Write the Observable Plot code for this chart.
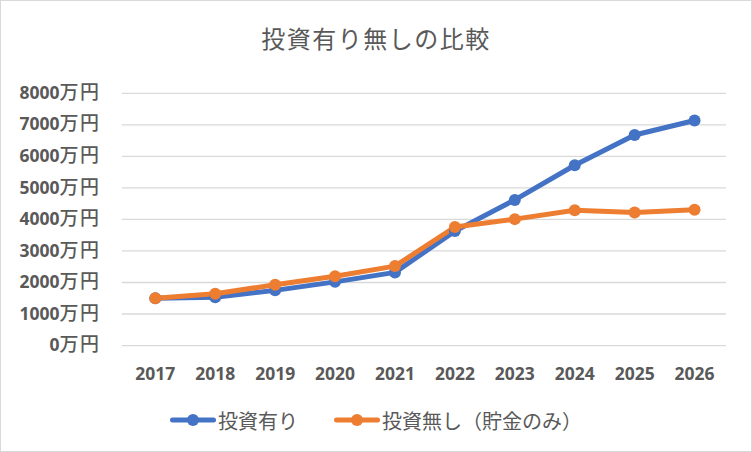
<!DOCTYPE html>
<html>
<head>
<meta charset="utf-8">
<script src="https://cdn.jsdelivr.net/npm/d3@7"></script>
<script src="https://cdn.jsdelivr.net/npm/@observablehq/plot@0.6"></script>
<style>
  html, body { margin: 0; padding: 0; background: #fff; }
  #chart {
    position: relative; width: 752px; height: 452px; box-sizing: border-box;
    border: 1px solid #d9d9d9; background: #fff; overflow: hidden;
    font-family: "Noto Sans", "Noto Sans CJK JP", sans-serif; color: #595959;
  }
  #title {
    position: absolute; left: 0; right: 0; top: 21px; text-align: center;
    font-size: 24px; letter-spacing: 1.5px; line-height: 32px; color: #595959;
    font-family: "Noto Sans CJK JP", sans-serif;
  }
  #plot { position: absolute; left: -1px; top: -1px; }
  #legend {
    position: absolute; left: 0; right: 0; top: 404px; height: 30px;
    display: flex; justify-content: center; align-items: center; gap: 0;
    font-family: "Noto Sans CJK JP", sans-serif; font-size: 20px; color: #595959;
  }
  .item { display: flex; align-items: center; }
  .item svg { display: block; margin-right: 2px; }
</style>
</head>
<body>
<div id="chart">
  <div id="title"></div>
  <div id="plot"></div>
  <div id="legend"></div>
</div>
<script>
const titleText = "投資有り無しの比較";
const years = ["2017","2018","2019","2020","2021","2022","2023","2024","2025","2026"];
const seriesNames = ["投資有り", "投資無し（貯金のみ）"];
const seriesColors = ["#4472C4", "#ED7D31"];
const invest  = [1500, 1530, 1750, 2020, 2320, 3630, 4620, 5720, 6680, 7140];
const savings = [1500, 1640, 1930, 2200, 2520, 3760, 4010, 4290, 4220, 4310];
const yTicks = [0, 1000, 2000, 3000, 4000, 5000, 6000, 7000, 8000];
const yUnit = "万円";

document.getElementById("title").textContent = titleText;

const data = [];
years.forEach((y, i) => {
  data.push({year: y, value: invest[i], series: seriesNames[0]});
});
years.forEach((y, i) => {
  data.push({year: y, value: savings[i], series: seriesNames[1]});
});

const chart = Plot.plot({
  width: 752,
  height: 400,
  marginLeft: 122,
  marginRight: 25,
  marginTop: 93,
  marginBottom: 54.5,
  style: {background: "transparent", color: "#595959", overflow: "visible"},
  x: {type: "point", domain: years, padding: 0.5, label: null},
  y: {domain: [0, 8000], label: null},
  color: {domain: seriesNames, range: seriesColors},
  marks: [
    Plot.ruleY(yTicks, {stroke: "#d9d9d9", strokeWidth: 1.3}),
    Plot.axisY({ticks: yTicks, tickSize: 0, tickPadding: 22, label: null,
      tickFormat: d => d + yUnit, ariaLabel: "y-axis",
      fontSize: 17.5, fontWeight: "bold", fill: "#595959"}),
    Plot.axisX({tickSize: 0, tickPadding: 22, label: null,
      fontSize: 17.5, fontWeight: "bold", fill: "#595959"}),
    Plot.line(data, {x: "year", y: "value", stroke: "series", z: "series", strokeWidth: 5, strokeLinejoin: "round", strokeLinecap: "round"}),
    Plot.dot(data, {x: "year", y: "value", fill: "series", r: 6, stroke: "none"})
  ]
});
chart.querySelectorAll("text").forEach(t => {
  t.style.fontFamily = '"Noto Sans", "Noto Sans CJK JP", sans-serif';
});
// style the unit part of y tick labels (wider CJK glyphs, as in the reference)
chart.querySelectorAll('g[aria-label="y-axis tick label"] text, g[aria-label="y-axis"] text').forEach(t => {
  const s = t.textContent;
  if (!s.endsWith(yUnit)) return;
  const num = s.slice(0, -yUnit.length);
  const ns = "http://www.w3.org/2000/svg";
  while (t.firstChild) t.removeChild(t.firstChild);
  const a = document.createElementNS(ns, "tspan"); a.textContent = num;
  const b = document.createElementNS(ns, "tspan"); b.textContent = yUnit;
  b.setAttribute("font-size", 19); b.setAttribute("letter-spacing", 1.5);
  b.setAttribute("font-family", '"Noto Sans CJK JP", sans-serif');
  b.setAttribute("font-weight", 500);
  t.appendChild(a); t.appendChild(b);
});
document.getElementById("plot").appendChild(chart);

// Legend
const legend = document.getElementById("legend");
seriesNames.forEach((name, i) => {
  const item = document.createElement("div");
  item.className = "item";
  if (i > 0) item.style.marginLeft = "36px";
  const ns = "http://www.w3.org/2000/svg";
  const svg = document.createElementNS(ns, "svg");
  svg.setAttribute("width", 46); svg.setAttribute("height", 14);
  const ln = document.createElementNS(ns, "line");
  ln.setAttribute("x1", 2.5); ln.setAttribute("x2", 43.5); ln.setAttribute("y1", 7); ln.setAttribute("y2", 7);
  ln.setAttribute("stroke", seriesColors[i]); ln.setAttribute("stroke-width", 5); ln.setAttribute("stroke-linecap", "round");
  const c = document.createElementNS(ns, "circle");
  c.setAttribute("cx", 23); c.setAttribute("cy", 7); c.setAttribute("r", 6); c.setAttribute("fill", seriesColors[i]);
  svg.appendChild(ln); svg.appendChild(c);
  const span = document.createElement("span");
  span.textContent = name;
  item.appendChild(svg); item.appendChild(span);
  legend.appendChild(item);
});
</script>
</body>
</html>
